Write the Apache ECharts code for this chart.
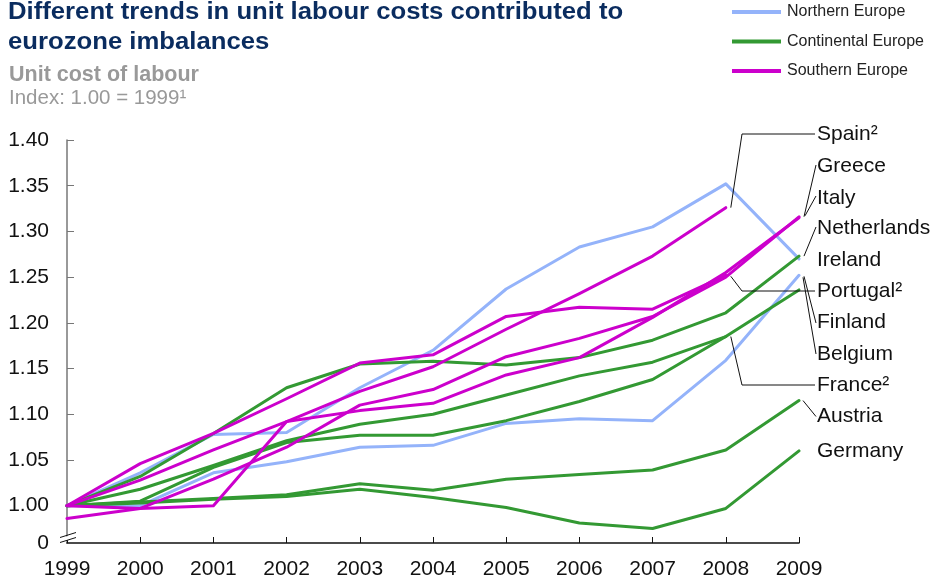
<!DOCTYPE html>
<html>
<head>
<meta charset="utf-8">
<script src="https://cdn.jsdelivr.net/npm/echarts@6/dist/echarts.min.js"></script>
<style>
html,body{margin:0;padding:0;background:#fff;}
#main{width:935px;height:580px;}
</style>
</head>
<body>
<div id="main"></div>
<script>
// ---------- data ----------
const years = ['1999','2000','2001','2002','2003','2004','2005','2006','2007','2008','2009'];

// Northern Europe
const ireland     = [1.000, 1.036, 1.078, 1.080, 1.129, 1.170, 1.237, 1.283, 1.305, 1.352, 1.270];
const finland     = [1.000, 1.000, 1.036, 1.048, 1.064, 1.066, 1.090, 1.095, 1.093, 1.159, 1.252];
// Continental Europe
const netherlands = [1.000, 1.032, 1.079, 1.129, 1.155, 1.158, 1.154, 1.162, 1.181, 1.211, 1.273];
const belgium     = [1.000, 1.018, 1.044, 1.071, 1.089, 1.100, 1.121, 1.142, 1.157, 1.185, 1.236];
const france      = [1.000, 1.005, 1.042, 1.069, 1.077, 1.077, 1.093, 1.114, 1.138, 1.185];
const austria     = [1.000, 1.004, 1.008, 1.012, 1.024, 1.017, 1.029, 1.034, 1.039, 1.061, 1.115];
const germany     = [1.000, 1.003, 1.007, 1.010, 1.018, 1.009, 0.998, 0.981, 0.975, 0.997, 1.060];
// Southern Europe
const spain       = [1.000, 1.028, 1.061, 1.092, 1.125, 1.152, 1.193, 1.232, 1.273, 1.326];
const portugal    = [1.000, 1.046, 1.079, 1.117, 1.156, 1.165, 1.207, 1.217, 1.215, 1.252];
const greece      = [1.000, 0.997, 1.000, 1.092, 1.104, 1.112, 1.143, 1.162, 1.206, 1.255, 1.315];
const italy       = [0.986, 0.997, 1.029, 1.064, 1.110, 1.127, 1.163, 1.183, 1.207, 1.250, 1.316];

const groupNames = ['Northern Europe', 'Continental Europe', 'Southern Europe'];
const yTickValues = [1.00, 1.05, 1.10, 1.15, 1.20, 1.25, 1.30, 1.35, 1.40];
const yBreakLabel = '0';

const countries = [
  {name: 'Ireland',     label: 'Ireland',     group: 0, data: ireland},
  {name: 'Finland',     label: 'Finland',     group: 0, data: finland},
  {name: 'Netherlands', label: 'Netherlands', group: 1, data: netherlands},
  {name: 'Belgium',     label: 'Belgium',     group: 1, data: belgium},
  {name: 'France',      label: 'France²',     group: 1, data: france},
  {name: 'Austria',     label: 'Austria',     group: 1, data: austria},
  {name: 'Germany',     label: 'Germany',     group: 1, data: germany},
  {name: 'Spain',       label: 'Spain²',      group: 2, data: spain},
  {name: 'Portugal',    label: 'Portugal²',   group: 2, data: portugal},
  {name: 'Greece',      label: 'Greece',      group: 2, data: greece},
  {name: 'Italy',       label: 'Italy',       group: 2, data: italy}
];

// ---------- styling / layout ----------
const groupColors = ['#94b3fa', '#339933', '#cc00cc'];
const FONT = '"Liberation Sans", Arial, sans-serif';
const yMin = 0.9592, yMax = 1.40;

const labelX = 817;
const labelY = {Spain:134, Greece:166.5, Italy:198, Netherlands:228.5, Ireland:260,
                Portugal:291, Finland:322, Belgium:354, France:385, Austria:416.5, Germany:451.5};
const leaders = [
  {name:'Spain',       anchor:'Spain',       off:[5,0],  elbow:742},
  {name:'Greece',      anchor:'Greece',      off:[5,-1], elbow:null, endDy:-1.5},
  {name:'Italy',       anchor:'Italy',       off:[6,-1], elbow:null, endDy:-2},
  {name:'Netherlands', anchor:'Netherlands', off:[5,0],  elbow:null, endDy:-1.5},
  {name:'Portugal',    anchor:'Portugal',    off:[5,1],  elbow:742},
  {name:'Finland',     anchor:'Finland',     off:[5,1],  elbow:null, endDy:1},
  {name:'Belgium',     anchor:'Finland',     off:[4,2],  elbow:null, endDy:0},
  {name:'France',      anchor:'France',      off:[5,0],  elbow:742},
  {name:'Austria',     anchor:'Austria',     off:[4,0],  elbow:null, endDy:0}
];

const chart = echarts.init(document.getElementById('main'), null, {renderer: 'canvas'});

const series = [];
groupNames.forEach((g, i) => {
  series.push({name: g, type: 'line', data: [], symbol: 'none',
    lineStyle: {color: groupColors[i], width: 4}, itemStyle: {color: groupColors[i]}});
});
[0, 1, 2].forEach(gi => {
  countries.filter(c => c.group === gi).forEach(c => {
    series.push({
      name: c.name, type: 'line', data: c.data, symbol: 'none', silent: true,
      lineStyle: {color: groupColors[gi], width: 3, join: 'round', cap: 'round'},
      itemStyle: {color: groupColors[gi]}, z: 2 + gi
    });
  });
});

chart.setOption({
  animation: false,
  backgroundColor: '#fff',
  grid: {left: 67, right: 136, top: 140, bottom: 37, containLabel: false},
  legend: {
    data: groupNames, orient: 'vertical', left: 727, top: -1, itemGap: 13.5,
    icon: 'rect', itemWidth: 49, itemHeight: 4, selectedMode: false,
    textStyle: {fontFamily: FONT, fontSize: 16, color: '#222', padding: [0, 0, 0, 1]}
  },
  xAxis: {
    type: 'category', data: years, boundaryGap: false,
    axisLine: {show: true, lineStyle: {color: '#111', width: 1.5}},
    axisTick: {show: true, inside: true, length: 6, lineStyle: {color: '#111', width: 1}},
    axisLabel: {fontFamily: FONT, fontSize: 21, color: '#111', margin: 16},
    splitLine: {show: false}
  },
  yAxis: {
    type: 'value', min: yMin, max: yMax,
    axisLine: {show: true, onZero: false, lineStyle: {color: '#777', width: 1.5}},
    axisTick: {show: true, inside: true, length: 7, lineStyle: {color: '#777', width: 1},
               customValues: yTickValues},
    axisLabel: {fontFamily: FONT, fontSize: 21, color: '#111', margin: 18,
                customValues: [yMin].concat(yTickValues),
                formatter: v => (v < 0.99 ? yBreakLabel : v.toFixed(2))},
    splitLine: {show: false}
  },
  series: series
});

// ---------- annotations ----------
const graphics = [];
graphics.push({type: 'text', x: 8, y: 12.5, scaleX: 1.117, silent: true,
  style: {text: 'Different trends in unit labour costs contributed to', font: 'bold 23px ' + FONT,
          fill: '#0a2c5f', verticalAlign: 'middle'}});
graphics.push({type: 'text', x: 8, y: 42.5, scaleX: 1.117, silent: true,
  style: {text: 'eurozone imbalances', font: 'bold 23px ' + FONT, fill: '#0a2c5f', verticalAlign: 'middle'}});
graphics.push({type: 'text', x: 9, y: 75, silent: true,
  style: {text: 'Unit cost of labour', font: 'bold 21.5px ' + FONT, fill: '#999', verticalAlign: 'middle'}});
graphics.push({type: 'text', x: 9, y: 98, silent: true,
  style: {text: 'Index: 1.00 = 1999¹', font: '20.5px ' + FONT, fill: '#999', verticalAlign: 'middle'}});

const origin = chart.convertToPixel({gridIndex: 0}, [0, yMin]);
const ax = origin[0], ay = origin[1];
graphics.push({type: 'polygon', silent: true, z: 10,
  shape: {points: [[ax - 6, ay - 4.5], [ax + 8, ay - 9.5], [ax + 8, ay - 5.5], [ax - 6, ay - 0.5]]},
  style: {fill: '#fff'}});
graphics.push({type: 'line', silent: true, z: 11,
  shape: {x1: ax - 7, y1: ay - 5.5, x2: ax + 9, y2: ay - 10.5}, style: {stroke: '#111', lineWidth: 1}});
graphics.push({type: 'line', silent: true, z: 11,
  shape: {x1: ax - 7, y1: ay - 0.5, x2: ax + 9, y2: ay - 5.5}, style: {stroke: '#111', lineWidth: 1}});

countries.forEach(c => {
  graphics.push({type: 'text', x: labelX, y: labelY[c.name], silent: true,
    style: {text: c.label, font: '21px ' + FONT, fill: '#111', verticalAlign: 'middle'}});
});

const byName = {};
countries.forEach(c => byName[c.name] = c);
leaders.forEach(l => {
  const c = byName[l.anchor];
  const last = c.data.length - 1;
  const p = chart.convertToPixel({gridIndex: 0}, [last, c.data[last]]);
  const start = [p[0] + l.off[0], p[1] + l.off[1]];
  const ty = labelY[l.name];
  let pts;
  if (l.elbow !== null) {
    pts = [start, [l.elbow, ty], [labelX - 2, ty]];
  } else {
    pts = [start, [labelX - 1, ty + (l.endDy || 0)]];
  }
  graphics.push({type: 'polyline', silent: true, z: 12,
    shape: {points: pts}, style: {stroke: '#111', lineWidth: 1, fill: null}});
});

chart.setOption({graphic: graphics});
</script>
</body>
</html>
